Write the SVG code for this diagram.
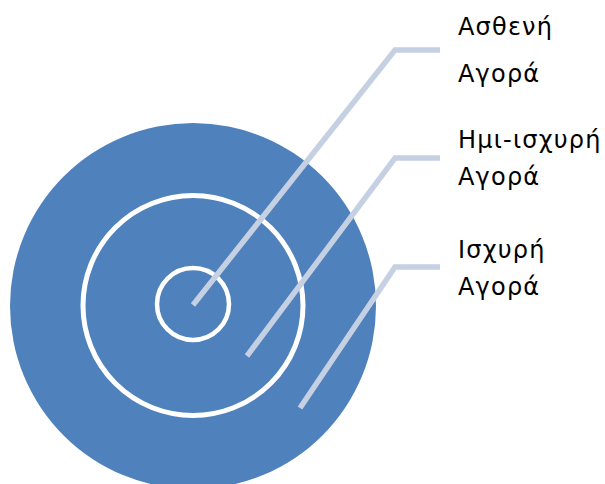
<svg xmlns="http://www.w3.org/2000/svg" width="605" height="484" viewBox="0 0 605 484">
<style>
.ring{fill:none;stroke:#ffffff}
.conn{fill:none;stroke:#c5d0e3;stroke-width:5.5;stroke-linejoin:miter}
.lbl{font-family:"DejaVu Sans","Noto Sans",sans-serif;font-size:24px;letter-spacing:1.2px;fill:#000000}
</style>
<rect width="605" height="484" fill="#ffffff"/>
<g id="outer"><circle cx="193" cy="306" r="183" fill="#4f81bd"/></g>
<g id="middle"><circle class="ring" cx="193" cy="305.5" r="110" stroke-width="5"/></g>
<g id="inner"><circle class="ring" cx="193" cy="304" r="36" stroke-width="4.5"/></g>
<g id="connectors">
<polyline class="conn" points="193,305 395,50 440,50"/>
<polyline class="conn" points="247,356 395,158 440,158"/>
<polyline class="conn" points="300,408 395,267 440,267"/>
</g>
<g id="label-weak"><text class="lbl" x="458" y="35">Ασθενή</text><text class="lbl" x="458" y="82">Αγορά</text></g>
<g id="label-semi"><text class="lbl" x="458" y="148">Ημι-ισχυρή</text><text class="lbl" x="458" y="185">Αγορά</text></g>
<g id="label-strong"><text class="lbl" x="458" y="258">Ισχυρή</text><text class="lbl" x="458" y="295">Αγορά</text></g>
</svg>
